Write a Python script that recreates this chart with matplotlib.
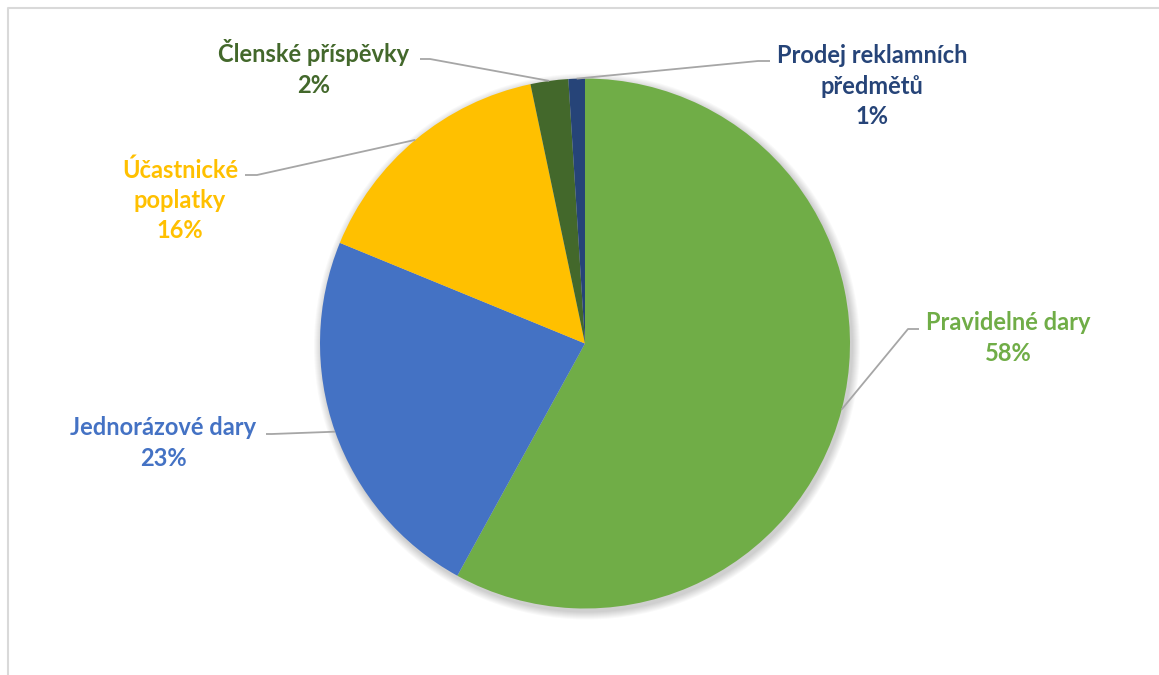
import numpy as np
import matplotlib
matplotlib.use("Agg")
from matplotlib import pyplot as plt

# data (share of income, %)
categories = ["Pravidelné dary", "Jednorázové dary", "Účastnické poplatky",
              "Členské příspěvky", "Prodej reklamních předmětů"]
values = [58.0, 23.2, 15.5, 2.3, 1.0]
display_labels = ["Pravidelné dary", "Jednorázové dary", "Účastnické\npoplatky",
                  "Členské příspěvky", "Prodej reklamních\npředmětů"]
colors = ["#70AD47", "#4472C4", "#FFC000", "#43682B", "#264478"]

W, H = 1159, 675

# label layout in pixel coords (x center, y center, elbow, end of leader)
label_pos = [
    (1008, 338, (908, 329), (919, 329)),
    (163, 443, (272, 434), (266, 434)),
    (180, 200, (257, 175), (245, 175)),
    (314, 68, (430, 59), (420, 59)),
    (872, 86, (758, 61), (770, 61)),
]

plt.rcParams['font.family'] = ['Lato', 'DejaVu Sans']

fig = plt.figure(figsize=(W / 100, H / 100), dpi=100)
ax = fig.add_axes([0, 0, 1, 1])

cx, cy, r = 585, H - 343.5, 265

# soft shadow under the pie
for k in range(8):
    sh = plt.Circle((cx + 2, cy - 3), r + 1 + k, color="black",
                    alpha=0.025, lw=0, zorder=0)
    ax.add_patch(sh)

wedges, _ = ax.pie(values, colors=colors, startangle=90, counterclock=False,
                   center=(cx, cy), radius=r, frame=True,
                   wedgeprops=dict(linewidth=0))

for w, lab, val, col, (lx, ly, elbow, end) in zip(wedges, display_labels, values,
                                                   colors, label_pos):
    ang = np.deg2rad((w.theta1 + w.theta2) / 2)
    ax_x = cx + r * np.cos(ang)
    ax_y = cy + r * np.sin(ang)
    ax.plot([ax_x, elbow[0], end[0]], [ax_y, H - elbow[1], H - end[1]],
            color="#A6A6A6", lw=1.3, zorder=1, solid_capstyle="butt")
    ax.text(lx, H - ly, f"{lab}\n{round(val):.0f}%", ha="center", va="center",
            color=col, fontsize=17, fontweight="bold", linespacing=1.38)

# chart border (left and top visible)
ax.plot([8, 8, W + 5], [-5, H - 8, H - 8], color="#D9D9D9", lw=1.5)

ax.set_xlim(0, W)
ax.set_ylim(0, H)
ax.set_aspect("equal")
ax.axis("off")

plt.savefig("out.png", dpi=100)
